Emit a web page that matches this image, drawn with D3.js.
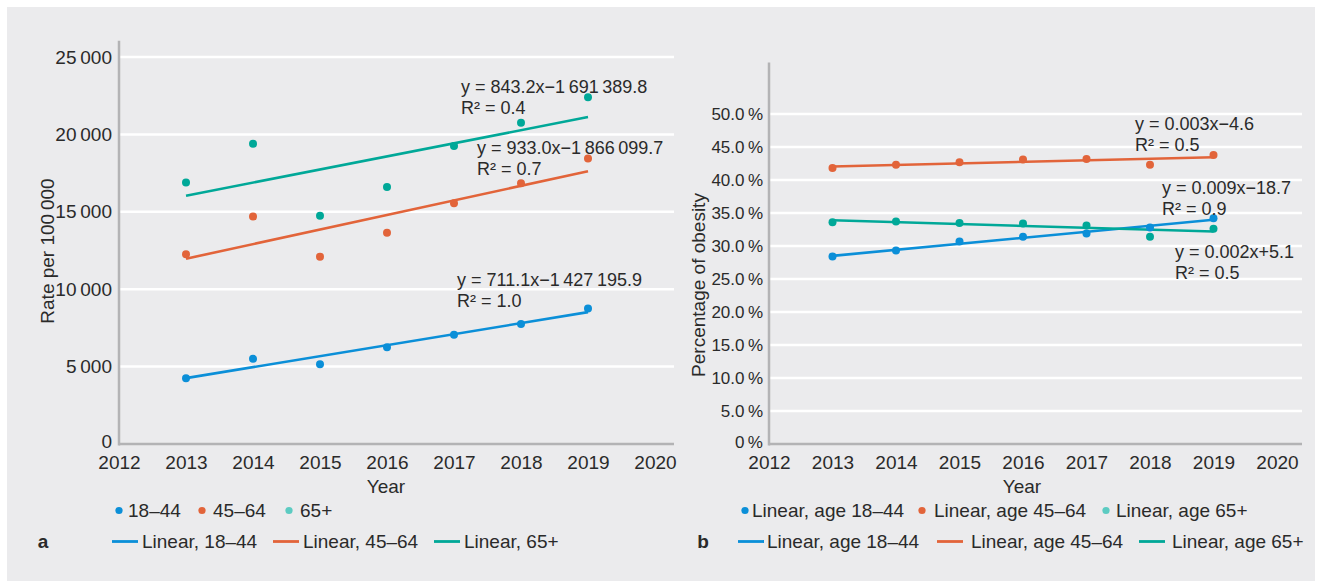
<!DOCTYPE html>
<html>
<head>
<meta charset="utf-8">
<script src="https://cdn.jsdelivr.net/npm/d3@7"></script>
<style>
  html, body { margin: 0; padding: 0; background: #ffffff; }
  svg { display: block; }
  text { font-family: "Liberation Sans", Arial, sans-serif; fill: #2a2a2a; }
</style>
</head>
<body>
<svg id="chart" width="1322" height="581"></svg>
<script>
// ---- data ----
const years = [2013, 2014, 2015, 2016, 2017, 2018, 2019];
const xTicks = [2012, 2013, 2014, 2015, 2016, 2017, 2018, 2019, 2020];

// panel a: rate per 100 000
const rate18to44 = [4250, 5500, 5150, 6250, 7050, 7750, 8750];
const rate45to64 = [12250, 14700, 12100, 13650, 15550, 16850, 18450];
const rate65plus = [16900, 19400, 14750, 16600, 19250, 20750, 22400];
const rateTicks = [0, 5000, 10000, 15000, 20000, 25000];
const rateEquations = [
  ["y = 711.1x\u22121\u2009427\u2009195.9", "R\u00B2 = 1.0"],
  ["y = 933.0x\u22121\u2009866\u2009099.7", "R\u00B2 = 0.7"],
  ["y = 843.2x\u22121\u2009691\u2009389.8", "R\u00B2 = 0.4"]
];
const rateLegendPoints = ["18\u201344", "45\u201364", "65+"];
const rateLegendLines = ["Linear, 18\u201344", "Linear, 45\u201364", "Linear, 65+"];

// panel b: share with obesity
const obese18to44 = [0.284, 0.293, 0.307, 0.314, 0.319, 0.328, 0.342];
const obese45to64 = [0.418, 0.423, 0.427, 0.431, 0.432, 0.423, 0.438];
const obese65plus = [0.336, 0.337, 0.335, 0.334, 0.331, 0.314, 0.326];
const obeseTicks = [0, 0.05, 0.10, 0.15, 0.20, 0.25, 0.30, 0.35, 0.40, 0.45, 0.50];
const obeseEquations = [
  ["y = 0.009x\u221218.7", "R\u00B2 = 0.9"],
  ["y = 0.003x\u22124.6", "R\u00B2 = 0.5"],
  ["y = 0.002x+5.1", "R\u00B2 = 0.5"]
];
const obeseLegendPoints = ["Linear, age 18\u201344", "Linear, age 45\u201364", "Linear, age 65+"];
const obeseLegendLines = ["Linear, age 18\u201344", "Linear, age 45\u201364", "Linear, age 65+"];

const colors = ["#0b8fd8", "#e2643a", "#00a898"];
const legendDotColors = ["#0b8fd8", "#e2643a", "#5ccbc2"];

// ---- helpers ----
// least-squares trend line through the yearly points
function linearFit(xs, ys) {
  const n = xs.length;
  const mx = d3.mean(xs), my = d3.mean(ys);
  let sxy = 0, sxx = 0;
  for (let i = 0; i < n; i++) { sxy += (xs[i] - mx) * (ys[i] - my); sxx += (xs[i] - mx) ** 2; }
  const slope = sxy / sxx;
  return x => my + slope * (x - mx);
}

const svg = d3.select("#chart");
svg.append("rect").attr("x", 7).attr("y", 7).attr("width", 1308).attr("height", 574).attr("fill", "#ebebed");

function drawPanel(cfg) {
  const g = svg.append("g");
  const x = d3.scaleLinear().domain([2012, 2020]).range(cfg.xRange);
  const y = d3.scaleLinear().domain([0, cfg.yTop]).range([444, cfg.yTopPx]);

  // gridlines
  g.selectAll(".grid").data(cfg.yTicks.filter(d => d > 0)).join("line")
    .attr("x1", cfg.xRange[0]).attr("x2", cfg.gridEnd)
    .attr("y1", d => y(d)).attr("y2", d => y(d))
    .attr("stroke", "#ffffff").attr("stroke-width", 2.5);

  // y axis labels
  const yAxis = d3.axisLeft(y).tickValues(cfg.yTicks).tickFormat(cfg.yFormat).tickSize(0).tickPadding(cfg.yPad);
  const ya = g.append("g").attr("transform", `translate(${cfg.xRange[0]},0)`).call(yAxis);
  ya.select(".domain").remove();
  ya.selectAll("text").attr("font-size", cfg.yFont).attr("fill", "#2a2a2a")
    .attr("font-family", "Liberation Sans, Arial, sans-serif");
  ya.selectAll(".tick").filter(d => d === 0).select("text").attr("dy", "0.2em");

  // x axis labels
  const xAxis = d3.axisBottom(x).tickValues(xTicks).tickFormat(d3.format("d")).tickSize(0).tickPadding(12);
  const xa = g.append("g").attr("transform", "translate(0,444)").call(xAxis);
  xa.select(".domain").remove();
  xa.selectAll("text").attr("font-size", 19).attr("fill", "#2a2a2a")
    .attr("font-family", "Liberation Sans, Arial, sans-serif");

  // axis lines
  g.append("line").attr("x1", cfg.xRange[0]).attr("x2", cfg.xRange[0])
    .attr("y1", y(cfg.axisTop)).attr("y2", 445.5)
    .attr("stroke", "#b3b3b5").attr("stroke-width", 2.5);
  g.append("line").attr("x1", cfg.xRange[0]).attr("x2", cfg.gridEnd)
    .attr("y1", 444).attr("y2", 444)
    .attr("stroke", "#b3b3b5").attr("stroke-width", 2.5);

  // axis titles
  g.append("text").attr("x", cfg.yearX).attr("y", 486).attr("text-anchor", "middle")
    .attr("dominant-baseline", "central").attr("font-size", 19).text("Year");
  g.append("text").attr("transform", `translate(${cfg.titleX},${cfg.titleY}) rotate(-90)`)
    .attr("text-anchor", "middle").attr("dominant-baseline", "central")
    .attr("font-size", 19).text(cfg.yTitle);

  // trend lines and points
  cfg.series.forEach((vals, i) => {
    const fit = linearFit(years, vals);
    g.append("line")
      .attr("x1", x(years[0])).attr("y1", y(fit(years[0])))
      .attr("x2", x(years[years.length - 1])).attr("y2", y(fit(years[years.length - 1])))
      .attr("stroke", colors[i]).attr("stroke-width", 2.6);
  });
  cfg.series.forEach((vals, i) => {
    g.selectAll(null).data(vals).join("circle")
      .attr("cx", (d, j) => x(years[j])).attr("cy", d => y(d)).attr("r", 4)
      .attr("fill", colors[i]);
  });

  // equations
  cfg.equations.forEach((eq, i) => {
    const p = cfg.eqPos[i];
    eq.forEach((line, k) => {
      g.append("text").attr("x", p[0]).attr("y", p[1] + k * 21)
        .attr("dominant-baseline", "central").attr("font-size", 18).text(line);
    });
  });

  // legend: markers row
  cfg.legendPoints.forEach((label, i) => {
    const p = cfg.legendDotPos[i];
    g.append("circle").attr("cx", p).attr("cy", 510.5).attr("r", 3.6).attr("fill", legendDotColors[i]);
    g.append("text").attr("x", p + cfg.dotGap[i]).attr("y", 510.5).attr("dominant-baseline", "central")
      .attr("font-size", 19).text(label);
  });
  // legend: trend line row
  cfg.legendLines.forEach((label, i) => {
    const p = cfg.legendLinePos[i];
    g.append("line").attr("x1", p).attr("x2", p + 26).attr("y1", 541.5).attr("y2", 541.5)
      .attr("stroke", colors[i]).attr("stroke-width", 2.8);
    g.append("text").attr("x", p + cfg.lineGap[i]).attr("y", 541.5).attr("dominant-baseline", "central")
      .attr("font-size", 19).text(label);
  });

  g.append("text").attr("x", cfg.panelLabel[0]).attr("y", 541.5).attr("text-anchor", "middle")
    .attr("dominant-baseline", "central").attr("font-size", 19).attr("font-weight", "bold")
    .text(cfg.panelLabel[1]);
}

drawPanel({
  xRange: [119, 655], gridEnd: 674,
  yTop: 25000, yTopPx: 57, axisTop: 26050,
  yTicks: rateTicks, yFont: 19, yPad: 7,
  yFormat: d => d === 0 ? "0" : d3.format(",")(d).replace(",", "\u2009"),
  yearX: 386, titleX: 47, titleY: 251, yTitle: "Rate per 100\u2009000",
  series: [rate18to44, rate45to64, rate65plus],
  equations: rateEquations,
  eqPos: [[457, 280], [477, 148], [461, 87]],
  legendPoints: rateLegendPoints, legendDotPos: [119, 202, 289], dotGap: [9, 11, 11],
  legendLines: rateLegendLines, legendLinePos: [112, 273, 434], lineGap: [30, 30, 30],
  panelLabel: [43, "a"]
});

drawPanel({
  xRange: [769, 1277], gridEnd: 1302,
  yTop: 0.5, yTopPx: 114, axisTop: 0.578,
  yTicks: obeseTicks, yFont: 17, yPad: 6,
  yFormat: d => d === 0 ? "0\u2009%" : d3.format(".1f")(d * 100) + "\u2009%",
  yearX: 1022, titleX: 698, titleY: 285, yTitle: "Percentage of obesity",
  series: [obese18to44, obese45to64, obese65plus],
  equations: obeseEquations,
  eqPos: [[1162, 188], [1135, 124], [1175, 252]],
  legendPoints: obeseLegendPoints, legendDotPos: [745, 922, 1106], dotGap: [7, 12, 10],
  legendLines: obeseLegendLines, legendLinePos: [738, 937, 1139], lineGap: [29, 34, 33],
  panelLabel: [703, "b"]
});
</script>
</body>
</html>
